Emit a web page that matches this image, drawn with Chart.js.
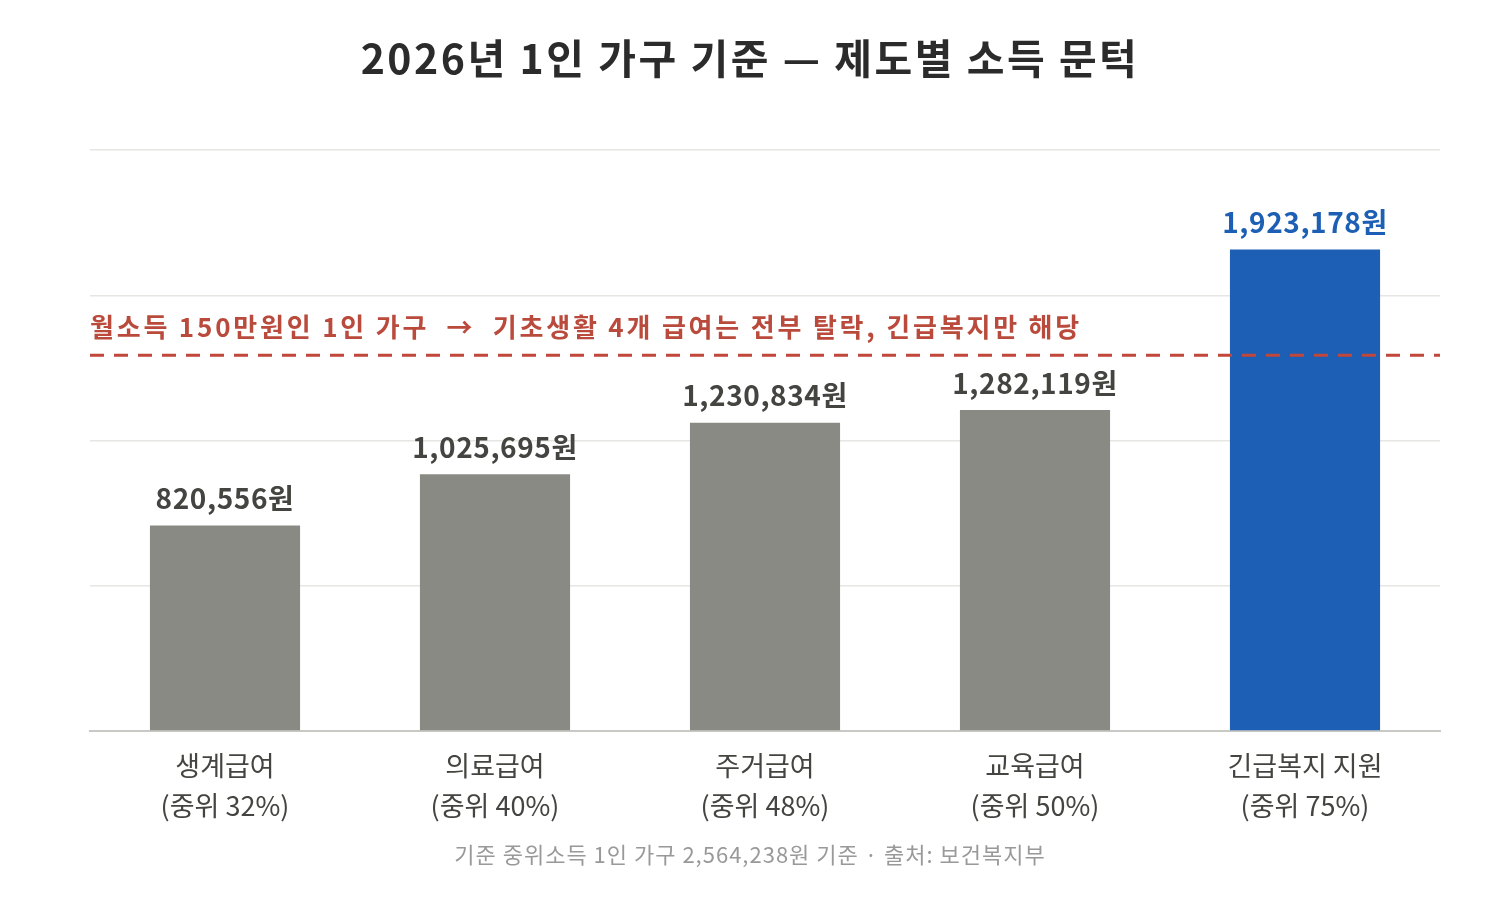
<!DOCTYPE html>
<html>
<head>
<meta charset="utf-8">
<script src="https://cdn.jsdelivr.net/npm/chart.js@4.4.1/dist/chart.umd.min.js"></script>
<style>
  body { margin: 0; background: #ffffff; }
  #wrap { width: 1500px; height: 900px; }
</style>
</head>
<body>
<div id="wrap"><canvas id="chart" width="1500" height="900"></canvas></div>
<script>
// ---------------------------- data
var programNames = ["생계급여", "의료급여", "주거급여", "교육급여", "긴급복지 지원"];
var medianShares = ["(중위 32%)", "(중위 40%)", "(중위 48%)", "(중위 50%)", "(중위 75%)"];
var thresholdWon = [820556, 1025695, 1230834, 1282119, 1923178];
var barColors = ["#8a8a84", "#8a8a84", "#8a8a84", "#8a8a84", "#1c5fb4"];
var labelColors = ["#444440", "#444440", "#444440", "#444440", "#1c5fb4"];
var incomeLine = 1500000;
var incomeNote = "월소득 150만원인 1인 가구  →  기초생활 4개 급여는 전부 탈락, 긴급복지만 해당";
var titleText = "2026년 1인 가구 기준 — 제도별 소득 문턱";
var footText = "기준 중위소득 1인 가구 2,564,238원 기준 · 출처: 보건복지부";

var FONT = "'Noto Sans CJK KR', 'Noto Sans', sans-serif";

var categoryLabels = programNames.map(function (n, i) { return [n, medianShares[i]]; });

// value labels above each bar
var valueLabels = {
  id: "valueLabels",
  afterDatasetsDraw: function (chart) {
    var ctx = chart.ctx;
    var meta = chart.getDatasetMeta(0);
    ctx.save();
    ctx.font = "bold 28px " + FONT;
    ctx.letterSpacing = "0.6px";
    ctx.textAlign = "center";
    ctx.textBaseline = "bottom";
    meta.data.forEach(function (bar, i) {
      ctx.fillStyle = labelColors[i];
      ctx.fillText(thresholdWon[i].toLocaleString("en-US") + "원", bar.x, bar.y - 13);
    });
    ctx.restore();
  }
};

// dashed income line + note
var incomeMarker = {
  id: "incomeMarker",
  afterDatasetsDraw: function (chart) {
    var ctx = chart.ctx;
    var area = chart.chartArea;
    var y = chart.scales.y.getPixelForValue(incomeLine);
    ctx.save();
    ctx.strokeStyle = "#c0473a";
    ctx.lineWidth = 3;
    ctx.setLineDash([14, 10]);
    ctx.beginPath();
    ctx.moveTo(area.left, y);
    ctx.lineTo(area.right, y);
    ctx.stroke();
    ctx.setLineDash([]);
    ctx.fillStyle = "#b94a3c";
    ctx.font = "bold 26px " + FONT;
    ctx.letterSpacing = "2.8px";
    ctx.textAlign = "left";
    ctx.textBaseline = "middle";
    ctx.fillText(incomeNote, area.left, y - 28);
    ctx.restore();
  }
};

// title on top, source note at the bottom
var headFoot = {
  id: "headFoot",
  afterDraw: function (chart) {
    var ctx = chart.ctx;
    var cx = chart.width / 2;
    ctx.save();
    ctx.textAlign = "center";
    ctx.textBaseline = "middle";
    ctx.fillStyle = "#2b2b2b";
    ctx.font = "bold 41px " + FONT;
    ctx.letterSpacing = "2.5px";
    ctx.fillText(titleText, cx, 58);
    ctx.fillStyle = "#999999";
    ctx.font = "22px " + FONT;
    ctx.letterSpacing = "1px";
    ctx.fillText(footText, cx, 855);
    ctx.restore();
  }
};

var chart = new Chart(document.getElementById("chart"), {
  type: "bar",
  data: {
    labels: categoryLabels,
    datasets: [{
      data: thresholdWon,
      backgroundColor: barColors,
      borderWidth: 0,
      barPercentage: 0.556,
      categoryPercentage: 1.0
    }]
  },
  options: {
    responsive: false,
    animation: false,
    layout: { padding: { top: 150, left: 90, right: 60, bottom: 59 } },
    plugins: {
      legend: { display: false },
      tooltip: { enabled: false },
      title: { display: false }
    },
    scales: {
      x: {
        grid: { display: false, drawTicks: false },
        border: { display: true, color: "#c8c8c4", width: 2 },
        ticks: {
          color: "#444440",
          padding: 15,
          font: { family: FONT, size: 27, lineHeight: "40px" }
        }
      },
      y: {
        min: 0,
        max: 2320000,
        ticks: { display: false, stepSize: 580000 },
        border: { display: false },
        grid: {
          drawTicks: false,
          color: "#e6e6e2",
          lineWidth: 1.5
        }
      }
    }
  },
  plugins: [valueLabels, incomeMarker, headFoot]
});
</script>
</body>
</html>
